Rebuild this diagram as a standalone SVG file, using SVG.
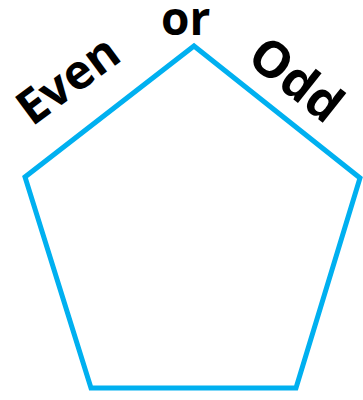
<svg xmlns="http://www.w3.org/2000/svg" width="363" height="400" viewBox="0 0 363 400">
<style>
.lbl{font-family:"Open Sans","Liberation Sans",sans-serif;font-weight:bold;font-size:48px;fill:#000}
.shape{fill:none;stroke:#00B0F0;stroke-width:5;stroke-linejoin:miter}
</style>
<rect width="363" height="400" fill="#fff"/>
<g id="pentagon">
<polygon class="shape" points="194,46 360,178 296,388 91,388 25,177"/>
</g>
<g id="label-even">
<text class="lbl" transform="translate(32,127) rotate(-36.5)">Even</text>
</g>
<g id="label-or">
<text class="lbl" x="161" y="35" style="font-size:46px">or</text>
</g>
<g id="label-odd">
<text class="lbl" transform="translate(245,61) rotate(38.5)" style="font-size:50px">Odd</text>
</g>
</svg>
